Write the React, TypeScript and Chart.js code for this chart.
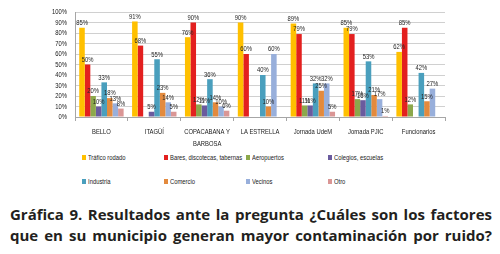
import React, { useEffect, useRef } from "react";
import { Chart, registerables } from "chart.js";

Chart.register(...registerables);

const categories: string[][] = [
  ["BELLO"],
  ["ITAGÜÍ"],
  ["COPACABANA Y", "BARBOSA"],
  ["LA ESTRELLA"],
  ["Jornada UdeM"],
  ["Jornada PJIC"],
  ["Funcionarios"],
];

const seriesNames = [
  "Tráfico rodado",
  "Bares, discotecas, tabernas",
  "Aeropuertos",
  "Colegios, escuelas",
  "Industria",
  "Comercio",
  "Vecinos",
  "Otro",
];

const trafico = [85, 91, 76, 90, 89, 85, 62];
const bares = [50, 68, 90, 60, 79, 79, 85];
const aeropuertos = [20, 0, 12, 0, 11, 17, 12];
const colegios = [10, 5, 11, 0, 11, 16, 0];
const industria = [33, 55, 36, 40, 32, 53, 42];
const comercio = [18, 23, 14, 10, 25, 21, 15];
const vecinos = [13, 14, 10, 60, 32, 17, 27];
const otro = [8, 5, 6, 0, 5, 1, 0];

const yTicks = [0, 10, 20, 30, 40, 50, 60, 70, 80, 90, 100];

const seriesValues = [trafico, bares, aeropuertos, colegios, industria, comercio, vecinos, otro];
const colors = ["#FFC000", "#E3201F", "#8CA84B", "#6A5B9E", "#4A9FBD", "#E38A3D", "#98AFDB", "#DA9695"];

const FONT = "'Liberation Sans', Arial, sans-serif";
const SQ = 0.78;

function narrowText(ctx: any, text: string, x: number, y: number, align: string) {
  ctx.save();
  ctx.translate(x, y);
  ctx.scale(SQ, 1);
  ctx.textAlign = align;
  ctx.fillText(text, 0, 0);
  ctx.restore();
}

const textPlugin = {
  id: "narrowTexts",
  afterDatasetsDraw(chart: any) {
    const ctx = chart.ctx;
    ctx.save();
    ctx.font = `7.5px ${FONT}`;
    ctx.fillStyle = "#262626";
    ctx.textBaseline = "bottom";
    chart.data.datasets.forEach((ds: any, di: number) => {
      const meta = chart.getDatasetMeta(di);
      meta.data.forEach((bar: any, i: number) => {
        const v = ds.data[i];
        if (!v) return;
        narrowText(ctx, `${v}%`, bar.x, bar.y - 1, "center");
      });
    });
    // y ticks
    const ys = chart.scales.y;
    ctx.textBaseline = "middle";
    ctx.fillStyle = "#1a1a1a";
    yTicks.forEach((v) => {
      narrowText(ctx, `${v}%`, ys.left + ys.width - 8, ys.getPixelForValue(v), "right");
    });
    // x labels
    const xs = chart.scales.x;
    categories.forEach((lines, i) => {
      const px = xs.getPixelForValue(i);
      lines.forEach((ln, k) => {
        narrowText(ctx, ln, px, xs.top + 15 + k * 12, "center");
      });
    });
    ctx.restore();
  },
};

export default function App() {
  const ref = useRef<HTMLCanvasElement>(null);
  useEffect(() => {
    document.body.style.margin = "0";
    const chart = new Chart(ref.current!, {
      type: "bar",
      data: {
        labels: categories.map((c) => c.join(" ")),
        datasets: seriesNames.map((n, i) => ({
          label: n,
          data: seriesValues[i],
          backgroundColor: colors[i],
          borderWidth: 0,
          categoryPercentage: 0.84,
          barPercentage: 1,
        })),
      },
      options: {
        animation: false,
        responsive: false,
        maintainAspectRatio: false,
        layout: { padding: { left: 45, right: 55, top: 12, bottom: 0 } },
        plugins: { legend: { display: false }, tooltip: { enabled: false } },
        scales: {
          x: {
            grid: {
              offset: true,
              drawOnChartArea: false,
              drawTicks: true,
              tickLength: 4,
              color: "#A6A6A6",
            },
            border: { color: "#A6A6A6" },
            ticks: { display: false },
            afterFit: (s: any) => {
              s.height = 33;
            },
          },
          y: {
            min: 0,
            max: 100,
            afterBuildTicks: (s: any) => {
              s.ticks = yTicks.map((v) => ({ value: v }));
            },
            grid: { color: "#D0D0D0", drawTicks: false },
            border: { color: "#A6A6A6" },
            ticks: { display: false },
            afterFit: (s: any) => {
              s.width = 30;
            },
          },
        },
      },
      plugins: [textPlugin],
    });
    return () => chart.destroy();
  }, []);

  const legendPos = [
    [82, 157],
    [164, 157],
    [246, 157],
    [328, 157],
    [82, 181],
    [164, 181],
    [246, 181],
    [328, 181],
  ];

  return (
    <div style={{ position: "relative", width: 500, height: 254, background: "#fff", overflow: "hidden" }}>
      <canvas ref={ref} width={500} height={150} style={{ position: "absolute", left: 0, top: 0, width: 500, height: 150 }} />
      {seriesNames.map((n, i) => (
        <div
          key={n}
          style={{
            position: "absolute",
            left: legendPos[i][0],
            top: legendPos[i][1] - 6,
            height: 12,
            display: "flex",
            alignItems: "center",
            whiteSpace: "nowrap",
            fontFamily: FONT,
            fontSize: 7.5,
            color: "#1a1a1a",
          }}
        >
          <span style={{ display: "inline-block", width: 4, height: 5, background: colors[i], marginRight: 2 }} />
          <span style={{ display: "inline-block", transform: `scaleX(${SQ})`, transformOrigin: "left center" }}>{n}</span>
        </div>
      ))}
      <div
        style={{
          position: "absolute",
          left: 10,
          top: 204,
          width: 482,
          fontFamily: "'Open Sans', Lato, sans-serif",
          fontWeight: 700,
          fontSize: 15,
          lineHeight: "21px",
          color: "#231F20",
          textAlign: "justify",
          textAlignLast: "justify",
        }}
      >
        <div>Gráfica 9. Resultados ante la pregunta ¿Cuáles son los factores</div>
        <div>que en su municipio generan mayor contaminación por ruido?</div>
      </div>
    </div>
  );
}
